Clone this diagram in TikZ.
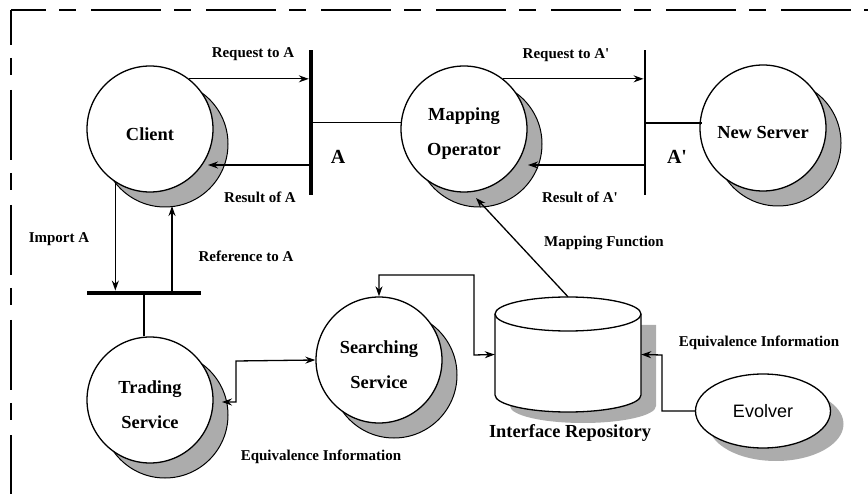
\documentclass[tikz,border=0pt]{standalone}
\usepackage{fontspec}
\setmainfont{Liberation Serif}
\newfontfamily\evfont{Liberation Sans}
\usetikzlibrary{shapes.geometric,shadows,arrows.meta}
\definecolor{shadowgray}{RGB}{172,172,172}
\newcommand\lowtxt[1]{\raisebox{-5pt}[\height][\depth]{#1}}
\begin{document}
\begin{tikzpicture}[x=1pt,y=-1pt,
  every node/.style={inner sep=0pt},
  lbl/.style={font=\fontsize{15}{18}\selectfont\bfseries},
  big/.style={font=\fontsize{20}{24}\selectfont\bfseries},
  proc/.style={circle, draw, line width=1.3pt, fill=white, minimum size=126pt, align=center,
    font=\fontsize{18.4}{35}\selectfont\bfseries,
    general shadow={shadow xshift=15pt, shadow yshift=-15pt, fill=shadowgray, draw=black, line width=1pt}},
  bar/.style={fill=black, draw=none, inner sep=0pt},
  conn/.style={line width=1.3pt},
  arr/.style={conn, -{Stealth[length=10pt,width=7pt]}},
  darr/.style={conn, {Stealth[length=10pt,width=7pt]}-{Stealth[length=10pt,width=7pt]}},
  frame/.style={line width=2.8pt, dash pattern=on 70pt off 13pt on 17pt off 15pt, dash phase=35pt}
]
\useasboundingbox (0,0) rectangle (868,494);
% frame
\draw[frame] (11,10) -- (868,10);
\draw[frame] (11,10) -- (11,494);

% interface repository (cylinder)
\node[minimum width=146pt, minimum height=115pt] (repo) at (568,354.5) {};
\fill[shadowgray] (510,325) -- (656,325) -- (656,406) arc[start angle=0, end angle=180, x radius=73, y radius=17] -- cycle;
\draw[line width=1.3pt, fill=white] (495,314) -- (495,395) arc[start angle=180, end angle=0, x radius=73, y radius=17] -- (641,314);
\draw[line width=1.3pt, fill=white] (568,314) ellipse[x radius=73, y radius=17];

% processes
\node[proc] (client) at (150,129) {\lowtxt{Client}};
\node[proc] (mapop) at (464,129) {\lowtxt{Mapping}\\\lowtxt{Operator}};
\node[proc] (server) at (763,128) {\lowtxt{New Server}};
\node[proc] (trading) at (150,400) {\lowtxt{Trading}\\\lowtxt{Service}};
\node[proc] (search) at (379,360) {\lowtxt{Searching}\\\lowtxt{Service}};
\node[ellipse, draw, line width=1.3pt, fill=white, minimum width=135pt, minimum height=74pt,
  font=\evfont\fontsize{18}{22}\selectfont,
  general shadow={shadow xshift=13pt, shadow yshift=-13pt, fill=shadowgray}] (evolver) at (763,411) {Evolver};

% bars
\node[bar, minimum width=4pt, minimum height=145pt] (barA) at (311,122.5) {};
\node[bar, minimum width=2.5pt, minimum height=145pt] (barB) at (645,122.5) {};
\node[bar, minimum width=114pt, minimum height=4.5pt] (hbar) at (144,293) {};

% helper coordinates
\coordinate (cres) at (208,165);
\coordinate (mres) at (528,165);
\coordinate (refA) at (172,206);
\coordinate (mf) at (476,198);
\coordinate (tsr) at (222,402);
\coordinate (mapin) at (402.3,122.5);
\coordinate (srvin) at (702,123);

% connectors
\draw[arr] (client.52) -- (client.52 -| barA.west);
\draw[arr] (cres -| barA.west) -- (cres);
\draw[conn] (mapin -| barA.east) -- (mapin);
\draw[arr] (mapop.52) -- (mapop.52 -| barB.west);
\draw[arr] (mres -| barB.west) -- (mres);
\draw[conn] (srvin -| barB.east) -- (srvin);
\draw[arr] (client.237) -- (client.237 |- hbar.north);
\draw[arr] (refA |- hbar.north) -- (refA);
\draw[conn] (hbar.south) -- (trading.north -| hbar.south);
\draw[arr] (repo.north) -- (mf);
\draw[darr] (tsr) -- (236,402) -- (236,361) -- (search.west);
\draw[darr] (search.north) -- (379,275) -- (474,275) -- (474,355) -- (repo.west);
\draw[arr] (evolver.west) -- (662,411) -- (662,355) -- (repo.east);

% labels
\node[lbl] (l1) at (253,54) {Request to A};
\node[lbl] (l2) at (260,197) {Result of A};
\node[big] (l3) at (338,157) {A};
\node[lbl] (l4) at (566,55) {Request to A\textquotesingle};
\node[lbl] (l5) at (580,197) {Result of A\textquotesingle};
\node[big] (l6) at (677,157) {A\textquotesingle};
\node[lbl] (l7) at (604,243) {Mapping Function};
\node[lbl] (l8) at (59,239) {Import A};
\node[lbl] (l9) at (246,256) {Reference to A};
\node[lbl] (l10) at (321,457) {Equivalence Information};
\node[lbl] (l11) at (759,343) {Equivalence Information};
\node[font=\fontsize{18.4}{22}\selectfont\bfseries] (l12) at (570,433) {Interface Repository};
\end{tikzpicture}
\end{document}
